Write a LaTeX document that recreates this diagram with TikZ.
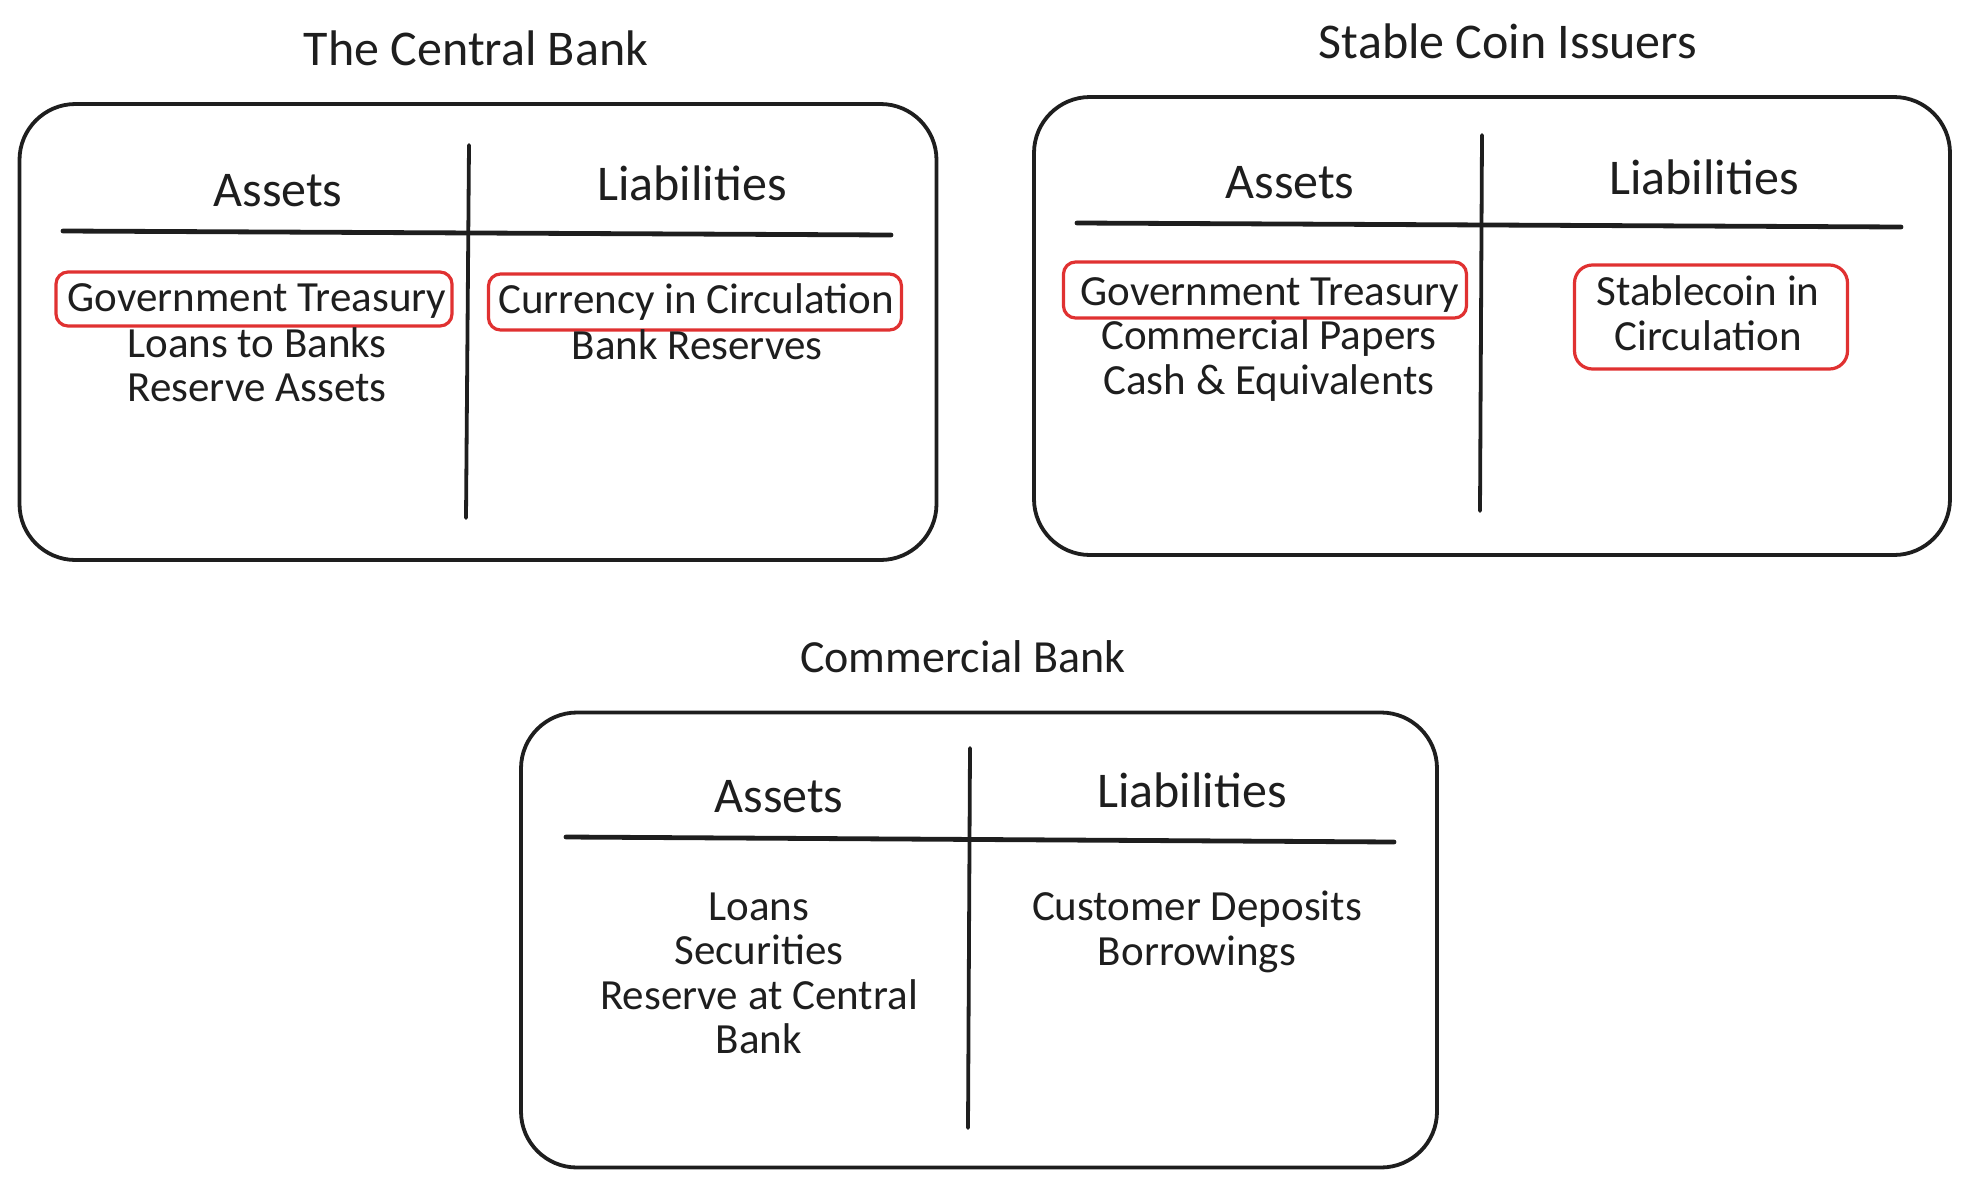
\documentclass[tikz,border=0pt]{standalone}
\usepackage{fontspec}
\setmainfont{Carlito}
\definecolor{ink}{HTML}{1E1E1E}
\definecolor{exred}{HTML}{E03131}
\begin{document}
\begin{tikzpicture}[x=1pt,y=-1pt,
  frame/.style={draw=ink, line width=3.8pt, rounded corners=56pt, inner sep=0pt},
  hilite/.style={draw=exred, line width=3.2pt, rounded corners=12pt, inner sep=0pt},
  hrule/.style={draw=ink, line width=4.8pt, line cap=round},
  vrule/.style={draw=ink, line width=3.8pt, line cap=round},
  title/.style={anchor=base, font=\fontsize{50}{60}\selectfont, text=ink, inner sep=0pt},
  head/.style={anchor=base, font=\fontsize{50}{60}\selectfont, text=ink, inner sep=0pt},
  item/.style={anchor=base, font=\fontsize{43}{45}\selectfont, text=ink, inner sep=0pt},
]
\useasboundingbox (0,0) rectangle (1968,1186);

% ---------------- The Central Bank ----------------
\node[title] (cbtitle) at (476,65) {The Central Bank};
\node[frame, minimum width=917pt, minimum height=456pt] (cbframe) at (478,332) {};
\coordinate (cbhl) at (63,231);
\coordinate (cbhr) at (891,235);
\coordinate (cbvt) at (469,145);
\coordinate (cbvb) at (466,518);
\draw[hrule] (cbhl) -- (cbhr);
\draw[vrule] (cbvt) -- (cbvb);
\node[head] (cbassets) at (278,206) {Assets};
\node[head] (cbliab) at (692,200) {Liabilities};
\node[hilite, minimum width=396pt, minimum height=54pt] (cbgtbox) at (254,299) {};
\node[item] (cbgt) at (257,311) {Government Treasury};
\node[item] (cbloans) at (257,357) {Loans to Banks};
\node[item] (cbres) at (257,401) {Reserve Assets};
\node[hilite, minimum width=413pt, minimum height=56pt] (cbcicbox) at (695,302) {};
\node[item] (cbcic) at (696,313) {Currency in Circulation};
\node[item] (cbbr) at (697,359) {Bank Reserves};

% ---------------- Stable Coin Issuers ----------------
\node[title] (sctitle) at (1508,58) {Stable Coin Issuers};
\node[frame, minimum width=916pt, minimum height=458pt] (scframe) at (1492,326) {};
\coordinate (schl) at (1077,223);
\coordinate (schr) at (1901,227);
\coordinate (scvt) at (1482,135);
\coordinate (scvb) at (1480,511);
\draw[hrule] (schl) -- (schr);
\draw[vrule] (scvt) -- (scvb);
\node[head] (scassets) at (1290,198) {Assets};
\node[head] (scliab) at (1704,194) {Liabilities};
\node[hilite, minimum width=403pt, minimum height=56pt] (scgtbox) at (1265,290) {};
\node[item] (scgt) at (1270,305) {Government Treasury};
\node[item] (sccp) at (1269,349) {Commercial Papers};
\node[item] (sccash) at (1269,394) {Cash \& Equivalents};
\node[hilite, minimum width=273pt, minimum height=104pt, rounded corners=18pt] (scsbox) at (1711,317) {};
\node[item] (scs1) at (1708,305) {Stablecoin in};
\node[item] (scs2) at (1708,350) {Circulation};

% ---------------- Commercial Bank ----------------
\node[title, font=\fontsize{46}{56}\selectfont] (cobtitle) at (963,672) {Commercial Bank};
\node[frame, minimum width=916pt, minimum height=455pt] (cobframe) at (979,940) {};
\coordinate (cobhl) at (566,837);
\coordinate (cobhr) at (1394,842);
\coordinate (cobvt) at (970,748);
\coordinate (cobvb) at (968,1128);
\draw[hrule] (cobhl) -- (cobhr);
\draw[vrule] (cobvt) -- (cobvb);
\node[head] (cobassets) at (779,812) {Assets};
\node[head] (cobliab) at (1192,807) {Liabilities};
\node[item] (cobloans) at (759,920) {Loans};
\node[item] (cobsec) at (759,964) {Securities};
\node[item] (cobres1) at (759,1009) {Reserve at Central};
\node[item] (cobres2) at (759,1053) {Bank};
\node[item] (cobdep) at (1197,920) {Customer Deposits};
\node[item] (cobbor) at (1197,965) {Borrowings};
\end{tikzpicture}
\end{document}
